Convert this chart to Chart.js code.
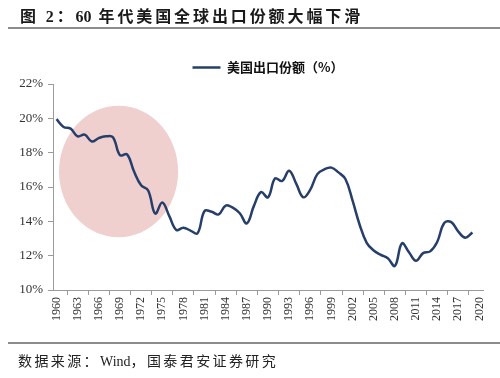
<!DOCTYPE html>
<html>
<head>
<meta charset="utf-8">
<script src="https://cdn.jsdelivr.net/npm/chart.js@4.4.1/dist/chart.umd.min.js"></script>
<style>
  html, body { margin: 0; padding: 0; background: #fff; }
  #wrap { position: relative; width: 500px; height: 378px; overflow: hidden; }
  #chart { position: absolute; left: 0; top: 0; }
  .title {
    position: absolute; left: 20px; top: 3px;
    font: bold 16px "Liberation Serif", "Noto Sans CJK SC", serif;
    letter-spacing: 2.9px; color: #1a1a1a; white-space: nowrap;
  }
  .tight { letter-spacing: 0; }
  .rule { position: absolute; left: 8px; width: 492px; height: 2px; background: #8c8c8c; }
  .source {
    position: absolute; left: 18px; top: 350px;
    font: 14px "Liberation Serif", "Noto Sans CJK SC", serif;
    letter-spacing: 2.4px; color: #222; white-space: nowrap;
  }
</style>
</head>
<body>
<div id="wrap">
  <canvas id="chart" width="500" height="378"></canvas>
  <div class="title">图 2：<span class="tight">60</span> 年代美国全球出口份额大幅下滑</div>
  <div class="rule" style="top:27px"></div>
  <div class="rule" style="top:342px"></div>
  <div class="source">数据来源：<span class="tight">Wind</span>，国泰君安证券研究</div>
</div>
<script>
// --- Dữ liệu: năm 1960 - 2020, thị phần xuất khẩu của Mỹ (%) ---
const years = [];
for (let y = 1960; y <= 2020; y++) years.push(String(y));

const exportShare = [
  19.95, 19.5, 19.4, 18.95, 19.05, 18.65, 18.85, 18.95, 18.9, 17.85, // 1960-1969
  17.9, 16.9, 16.1, 15.8, 14.45, 15.1, 14.3, 13.5, 13.63, 13.46,     // 1970-1979
  13.3, 14.6, 14.56, 14.4, 14.92, 14.8, 14.47, 13.88, 14.9, 15.7,    // 1980-1989
  15.4, 16.5, 16.35, 16.95, 16.2, 15.4, 15.85, 16.75, 17.03, 17.13,  // 1990-1999
  16.85, 16.45, 15.2, 13.8, 12.75, 12.3, 12.05, 11.85, 11.4, 12.72,  // 2000-2009
  12.2, 11.7, 12.15, 12.25, 12.8, 13.9, 13.95, 13.4, 13.05, 13.35    // 2010-2019
];

const seriesName = '美国出口份额（%）';
const yMin = 10;
const yMax = 22;
const yStep = 2;

// vùng khoanh tròn (đơn vị dữ liệu: chỉ số năm, %)
const circleCenter = { index: 8.8, value: 16.9 };
const circleRadius = { index: 8.45, value: 3.83 };

const lineColor = '#263f6a';
const axisColor = '#9a9a9a';
const labelColor = '#333';

// --- Plugin vẽ hình elip màu hồng phía sau đường ---
const highlightPlugin = {
  id: 'highlight',
  beforeDatasetsDraw(chart) {
    const { ctx, scales } = chart;
    const cx = scales.x.getPixelForValue(circleCenter.index);
    const cy = scales.y.getPixelForValue(circleCenter.value);
    const rx = scales.x.getPixelForValue(circleCenter.index + circleRadius.index) - cx;
    const ry = cy - scales.y.getPixelForValue(circleCenter.value + circleRadius.value);
    ctx.save();
    ctx.beginPath();
    ctx.ellipse(cx, cy, rx, ry, 0, 0, Math.PI * 2);
    ctx.fillStyle = '#f0d0cf';
    ctx.fill();
    ctx.restore();
  }
};

new Chart(document.getElementById('chart'), {
  type: 'line',
  data: {
    labels: years,
    datasets: [{
      label: seriesName,
      data: exportShare,
      borderColor: lineColor,
      backgroundColor: lineColor,
      borderWidth: 2.5,
      tension: 0.4,
      pointRadius: 0,
      fill: false
    }]
  },
  options: {
    responsive: false,
    animation: false,
    layout: { padding: { top: 52, left: 19, right: 17, bottom: 48 } },
    scales: {
      x: {
        offset: true,
        grid: { offset: true, drawOnChartArea: false, color: axisColor, tickLength: 5 },
        border: { color: axisColor, width: 1 },
        ticks: {
          autoSkip: false,
          minRotation: 90,
          maxRotation: 90,
          padding: 2,
          color: labelColor,
          font: { family: '"Liberation Serif", serif', size: 12 },
          callback: function (val, i) { return i % 3 === 0 ? years[i] : null; }
        },
        afterFit: function (axis) { axis.height = 40; }
      },
      y: {
        min: yMin,
        max: yMax,
        grid: { drawOnChartArea: false, color: axisColor, tickLength: 5 },
        border: { color: axisColor, width: 1 },
        ticks: {
          stepSize: yStep,
          padding: 5,
          color: labelColor,
          font: { family: '"Liberation Serif", serif', size: 13 },
          callback: function (v) { return v + '%'; }
        },
        afterFit: function (axis) { axis.width = 34; }
      }
    },
    plugins: {
      legend: {
        display: true,
        position: 'top',
        fullSize: false,
        labels: {
          usePointStyle: true,
          pointStyle: 'line',
          pointStyleWidth: 28,
          padding: 9,
          color: '#111',
          font: { family: '"Noto Sans CJK SC", sans-serif', size: 13, weight: 'bold' }
        }
      },
      tooltip: { enabled: false }
    }
  },
  plugins: [highlightPlugin]
});
</script>
</body>
</html>
